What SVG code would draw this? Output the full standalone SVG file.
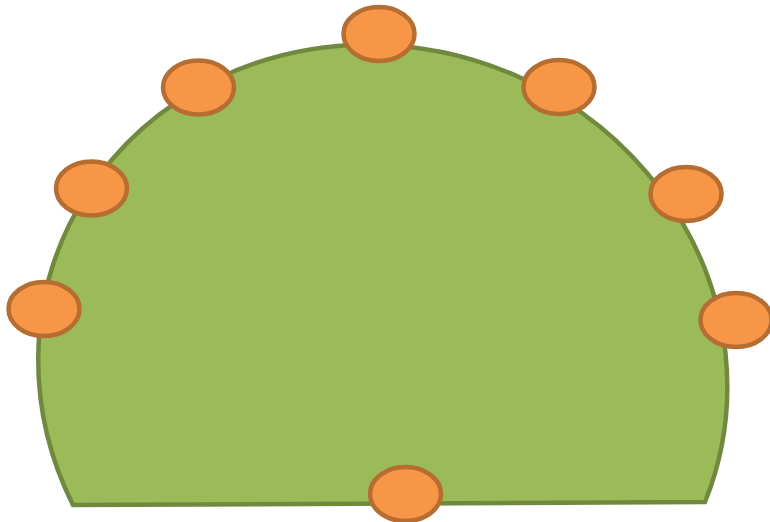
<svg xmlns="http://www.w3.org/2000/svg" width="770" height="522" viewBox="0 0 770 522">
<style>
.body{fill:#9BBB59;stroke:#71893F;stroke-width:4.5;stroke-linejoin:miter}
.node{fill:#F79646;stroke:#B66D31;stroke-width:4.5}
</style>
<rect width="770" height="522" fill="#ffffff"/>
<g id="dome">
<path class="body" d="M 73 505 A 347 326 20.4 1 1 705 502 Z"/>
</g>
<g id="node-left-low"><ellipse class="node" cx="44" cy="309" rx="35.5" ry="27"/></g>
<g id="node-left-mid"><ellipse class="node" cx="91.5" cy="188.5" rx="35.5" ry="27"/></g>
<g id="node-left-high"><ellipse class="node" cx="198.5" cy="87.5" rx="35.5" ry="27"/></g>
<g id="node-top"><ellipse class="node" cx="379" cy="34" rx="35.5" ry="27"/></g>
<g id="node-right-high"><ellipse class="node" cx="559" cy="87" rx="35.5" ry="27"/></g>
<g id="node-right-mid"><ellipse class="node" cx="686" cy="194" rx="35.5" ry="27"/></g>
<g id="node-right-low"><ellipse class="node" cx="736" cy="320" rx="35.5" ry="27"/></g>
<g id="node-bottom"><ellipse class="node" cx="405.5" cy="494" rx="35.5" ry="27"/></g>
</svg>
